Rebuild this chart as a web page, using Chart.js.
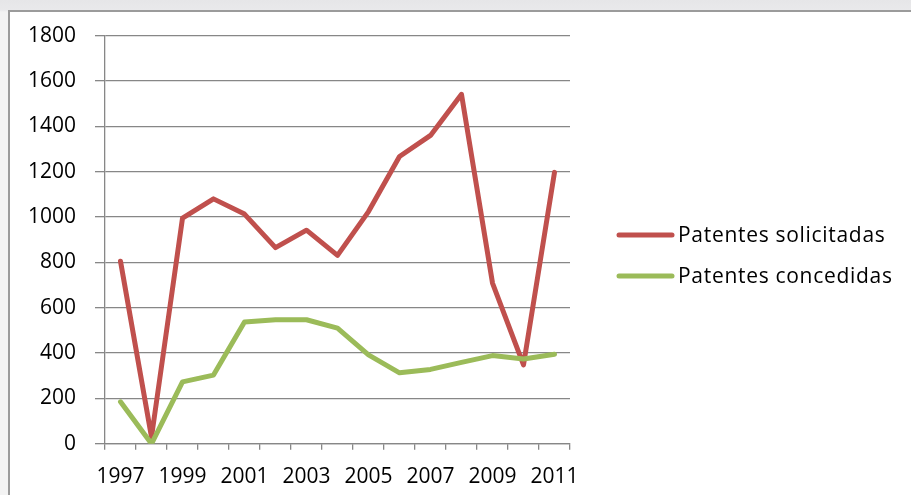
<!DOCTYPE html>
<html>
<head>
<meta charset="utf-8">
<script src="https://cdn.jsdelivr.net/npm/chart.js@4"></script>
<style>
  html, body { margin: 0; padding: 0; }
  body {
    width: 911px; height: 495px; overflow: hidden;
    background: linear-gradient(#e6e6e8 0, #e9e9eb 10px, #f3f3f3 12px);
    position: relative;
  }
  .frame {
    position: absolute; left: 8px; top: 10px;
    width: 910px; height: 500px;
    border: 2px solid #9b9b9b; background: #fff;
  }
  canvas { display: block; position: absolute; left: 0; top: -8px; }
</style>
</head>
<body>
<div class="frame">
  <canvas id="patentChart" width="901" height="501"></canvas>
</div>
<script>
/* ========= PATENT LINE CHART ========= */

const years = ["1997", "1998", "1999", "2000", "2001", "2002", "2003", "2004",
               "2005", "2006", "2007", "2008", "2009", "2010", "2011"];
const solicitadas = [805, 30, 995, 1080, 1013, 865, 942, 831,
                     1024, 1267, 1360, 1541, 709, 348, 1197];
const concedidas = [185, 0, 273, 303, 537, 547, 547, 510,
                    392, 313, 328, 359, 389, 374, 395];
const yTicks = [0, 200, 400, 600, 800, 1000, 1200, 1400, 1600, 1800];

const FONT = "'Open Sans', 'Liberation Sans', sans-serif";
const GRID = "#878787";

// legend drawn at the right, line sample + label per dataset
const sideLegend = {
  id: "sideLegend",
  afterDraw(chart) {
    const ctx = chart.ctx;
    ctx.save();
    ctx.font = "21px " + FONT;
    ctx.letterSpacing = "0.7px";
    ctx.textBaseline = "middle";
    ctx.fillStyle = "#000";
    chart.data.datasets.forEach((ds, i) => {
      const y = 231 + i * 41;
      ctx.strokeStyle = ds.borderColor;
      ctx.lineWidth = 5;
      ctx.lineCap = "round";
      ctx.beginPath();
      ctx.moveTo(609, y);
      ctx.lineTo(662, y);
      ctx.stroke();
      ctx.fillText(ds.label, 668, y + 1);
    });
    ctx.restore();
  }
};

new Chart(document.getElementById("patentChart"), {
  type: "line",
  data: {
    labels: years,
    datasets: [{
      label: "Patentes solicitadas",
      data: solicitadas,
      borderColor: "#C0504D",
      borderWidth: 5,
      pointRadius: 0,
      tension: 0,
      borderCapStyle: "round",
      borderJoinStyle: "round",
      order: 1
    }, {
      label: "Patentes concedidas",
      data: concedidas,
      borderColor: "#9BBB59",
      borderWidth: 5,
      pointRadius: 0,
      tension: 0,
      borderCapStyle: "round",
      borderJoinStyle: "round",
      order: 0
    }]
  },
  options: {
    responsive: false,
    animation: false,
    layout: { padding: { left: 19, right: 341, top: 0, bottom: 0 } },
    plugins: {
      legend: { display: false },
      tooltip: { enabled: false }
    },
    scales: {
      x: {
        offset: true,
        grid: {
          offset: true,
          drawOnChartArea: false,
          tickLength: 6,
          color: GRID,
          lineWidth: 1.3
        },
        border: { color: GRID, width: 1.3 },
        ticks: {
          autoSkip: false,
          maxRotation: 0,
          padding: 15,
          color: "#000",
          font: { family: FONT, size: 21 },
          callback: (v, i) => (i % 2 === 0 ? years[i] : "")
        }
      },
      y: {
        min: 0,
        max: 1800,
        afterBuildTicks: (axis) => {
          axis.ticks = yTicks.map(v => ({ value: v }));
        },
        afterFit: (axis) => { axis.width = 76; },
        grid: { color: GRID, lineWidth: 1.3, tickLength: 10 },
        border: { color: GRID, width: 1.3 },
        ticks: {
          padding: 19,
          color: "#000",
          font: { family: FONT, size: 21 },
          callback: (v) => String(v)
        }
      }
    }
  },
  plugins: [sideLegend]
});
</script>
</body>
</html>
